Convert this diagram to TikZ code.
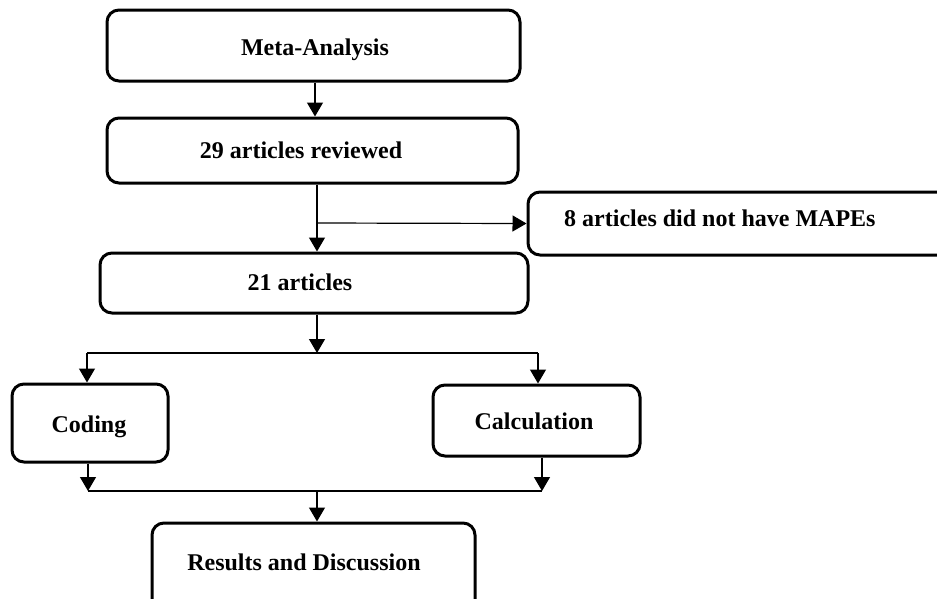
\documentclass[tikz,border=0pt]{standalone}
\usepackage{fontspec}
\setmainfont{Liberation Serif}
\usetikzlibrary{arrows.meta}
\begin{document}
\begin{tikzpicture}[x=1pt,y=-1pt,
  box/.style={draw, line width=3pt, rounded corners=12pt, inner sep=0pt},
  lbl/.style={font=\bfseries\fontsize{24}{28}\selectfont, inner sep=0pt},
  conn/.style={line width=1.2pt},
  arr/.style={conn, -{Triangle[length=14pt,width=16pt]}}]
\useasboundingbox (0,0) rectangle (937,598);
% boxes
\node[box, minimum width=413pt, minimum height=71pt] (meta) at (313.5,45.5) {};
\node[box, minimum width=411pt, minimum height=65pt] (rev) at (312.5,150.5) {};
\node[box, minimum width=428pt, minimum height=60pt] (art21) at (314,283) {};
\node[box, minimum width=452pt, minimum height=63pt] (excl) at (754,223.5) {};
\node[box, minimum width=156pt, minimum height=78pt] (cod) at (90,423) {};
\node[box, minimum width=207pt, minimum height=71pt] (calc) at (536.5,420.5) {};
\node[box, minimum width=323pt, minimum height=97pt] (res) at (313.5,571.5) {};
% labels
\node[lbl] (tmeta) at (315,50) {Meta-Analysis};
\node[lbl] (trev) at (301,150) {29 articles reviewed};
\node[lbl] (t21) at (300,282) {21 articles};
\node[lbl, anchor=west] (texcl) at (564,218) {8 articles did not have MAPEs};
\node[lbl] (tcod) at (89,427) {Coding};
\node[lbl] (tcalc) at (534,421) {Calculation};
\node[lbl] (tres) at (304,562) {Results and Discussion};
% connectors
\draw[arr] ([xshift=1.5pt]meta.south) -- ([xshift=2.5pt]rev.north);
\coordinate (c1) at (317,223);
\draw[arr] ([xshift=4.5pt]rev.south) -- ([xshift=3pt]art21.north);
\draw[arr] (c1) -- (excl.west);
\coordinate (j1) at (317,353);
\coordinate (jl) at (87,353);
\coordinate (jr) at (538,353);
\draw[arr] ([xshift=3pt]art21.south) -- (j1);
\draw[conn] (jl) -- (jr);
\draw[arr] (jl) -- (jl |- cod.north);
\draw[arr] (jr) -- (jr |- calc.north);
\coordinate (kl) at (88,491);
\coordinate (kr) at (542,491);
\coordinate (k1) at (317,491);
\draw[arr] (cod.south -| kl) -- (kl);
\draw[arr] (calc.south -| kr) -- (kr);
\draw[conn] (kl) -- (kr);
\draw[arr] (k1) -- (k1 |- res.north);
\end{tikzpicture}
\end{document}
